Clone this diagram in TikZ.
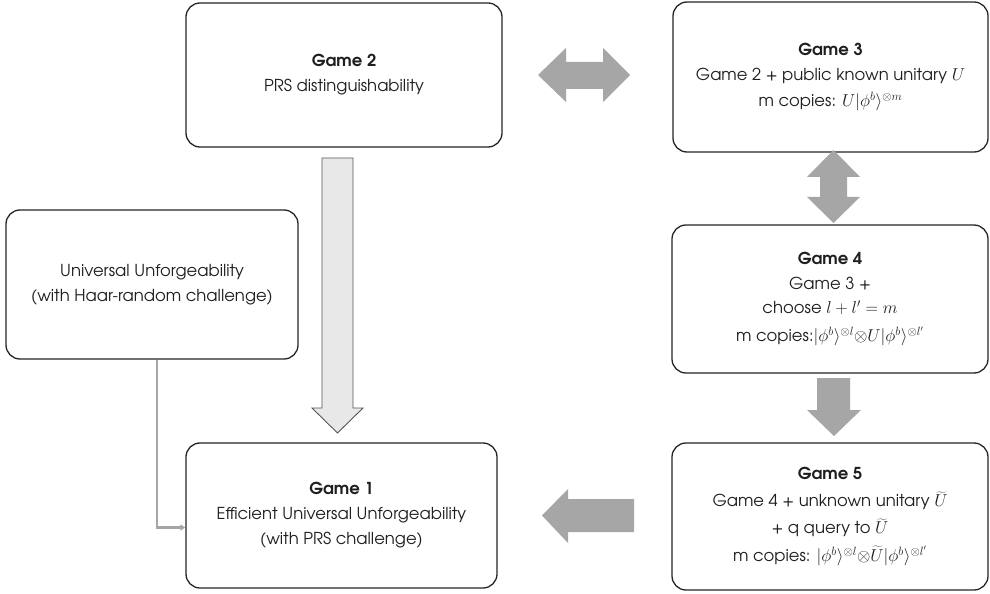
\documentclass[tikz,border=0pt]{standalone}
\usepackage{fontspec}
\setmainfont{TeX Gyre Adventor}
\usetikzlibrary{arrows.meta,calc}
\definecolor{agray}{HTML}{A6A6A6}
\definecolor{lgray}{HTML}{E8E8E8}
\definecolor{edgec}{HTML}{262626}
\definecolor{outl}{HTML}{555555}
\tikzset{
  box/.style={draw=edgec, line width=1.3bp, rounded corners=14bp, align=center,
    font=\fontsize{16.5}{25}\selectfont, inner sep=0pt, text=black!88},
  blockarrow/.style={fill=agray, draw=none},
  hollowarrow/.style={fill=lgray, draw=outl, line width=0.9bp},
  conn/.style={draw=agray, line width=2.2bp, -{Triangle[length=5bp,width=6bp]}}
}
\begin{document}
\begin{tikzpicture}[x=1bp,y=-1bp]
\path[use as bounding box] (0,0) rectangle (990,594);
\fill[white] (0,0) rectangle (990,594);

\node[box, minimum width=316bp, minimum height=144bp] (g2) at (344,75)
  {\textbf{Game 2}\\PRS distinguishability};
\node[box, minimum width=315bp, minimum height=150bp] (g3) at (830.5,77)
  {\textbf{Game 3}\\Game 2 + public known unitary $U$\\[1bp]m copies: $U|\phi^b\rangle^{\otimes m}$};
\node[box, minimum width=316bp, minimum height=148bp] (g4) at (830,299)
  {\textbf{Game 4}\\Game 3 +\\choose $l+l'=m$\\[3bp]m copies:$|\phi^b\rangle^{\otimes l}{\otimes} U|\phi^b\rangle^{\otimes l'}$};
\node[box, minimum width=316bp, minimum height=147bp] (g5) at (830,516.5)
  {\textbf{Game 5}\\[2bp]Game 4 + unknown unitary $\widetilde{U}$\\[2bp]+ q query to $\widetilde{U}$\\[3bp]m copies: $|\phi^b\rangle^{\otimes l}{\otimes}\widetilde{U}|\phi^b\rangle^{\otimes l'}$};
\node[box, minimum width=311bp, minimum height=145bp] (g1) at (341.5,515.5)
  {\textbf{Game 1}\\Efficient Universal Unforgeability\\(with PRS challenge)};
\node[box, minimum width=292bp, minimum height=149bp] (uu) at (152,284.5)
  {Universal Unforgeability\\(with Haar-random challenge)};

% Game 2 <-> Game 3
\fill[blockarrow] (538,75) -- (566,48) -- (566,62) -- (603,62) -- (603,48) -- (630,75)
  -- (603,102) -- (603,89) -- (566,89) -- (566,102) -- cycle;
% Game 3 <-> Game 4
\fill[blockarrow] (833.5,150) -- (860,177) -- (847,177) -- (847,197) -- (860,197) -- (833.5,223)
  -- (807,197) -- (820,197) -- (820,177) -- (807,177) -- cycle;
% Game 4 -> Game 5
\fill[blockarrow] (817,378) -- (850,378) -- (850,410) -- (861,410) -- (834,436) -- (807,410) -- (817,410) -- cycle;
% Game 5 -> Game 1
\fill[blockarrow] (634,499) -- (568,499) -- (568,489) -- (542,515.5) -- (568,543) -- (568,532) -- (634,532) -- cycle;
% Game 2 -> Game 1 (hollow)
\draw[hollowarrow] (322,158) -- (353,158) -- (353,408) -- (363,408) -- (337.5,433) -- (312,408) -- (322,408) -- cycle;
% Universal -> Game 1
\draw[conn] ($(uu.south)+(5,0)$) |- ($(g1.west)+(0,12)$);
\end{tikzpicture}
\end{document}
